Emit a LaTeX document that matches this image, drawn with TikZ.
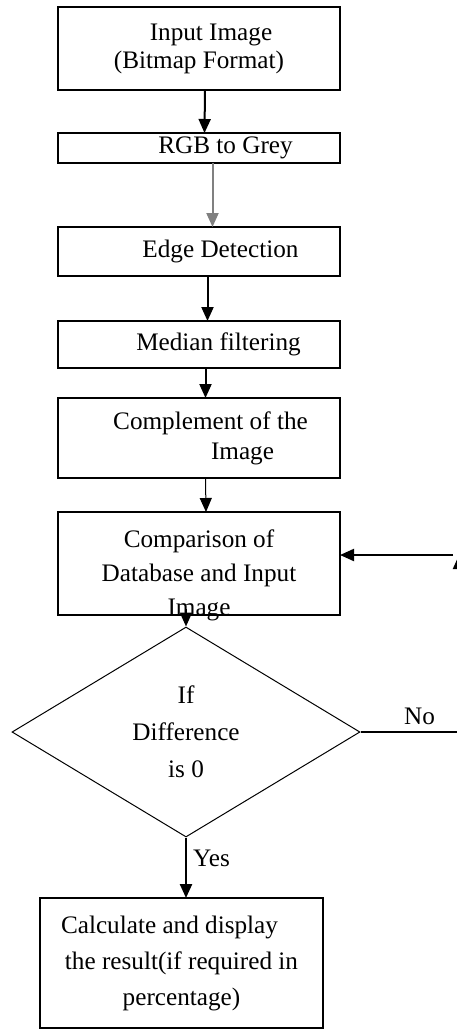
\documentclass[tikz,border=0pt]{standalone}
\usepackage{fontspec}
\setmainfont{Liberation Serif}
\usetikzlibrary{shapes.geometric,arrows.meta,calc}

\begin{document}
\begin{tikzpicture}
  [
    x=0.5pt, y=-0.5pt,
    font=\fontsize{12.6}{14}\selectfont,
    stage/.style =
      {draw, line width=1pt, minimum width=141pt, align=center, inner sep=0pt, outer sep=0pt},
    test/.style =
      {draw, diamond, line width=0.5pt, minimum width=174pt, minimum height=105pt,
       aspect=1.66, inner sep=0pt, align=center},
    flow/.style={-{Triangle[width=6pt,length=7pt]}, line width=1pt}
  ]
  \useasboundingbox (0,0) rectangle (456,1030);

  \node [stage, minimum height=41.5pt] at (199, 48.5) (input)
    {\hspace*{12pt}Input Image\\(Bitmap Format)};
  \node [stage, minimum height=15pt] at (198.5, 148) (grey)
    {\hspace*{27pt}RGB to Grey};
  \node [stage, minimum height=24.5pt] at (198.5, 251.5) (edge)
    {\hspace*{22pt}Edge Detection};
  \node [stage, minimum height=23.5pt] at (198.5, 344.5) (median)
    {\hspace*{20pt}Median filtering};
  \node [stage, minimum height=40pt, font=\fontsize{12.6}{15}\selectfont] at (198.5, 438) (compl)
    {\hspace*{12pt}Complement of the\\\hspace*{44pt}Image};
  \node [stage, minimum height=51.5pt] at (199, 563.5) (match) {};
  \node [align=center, inner sep=0pt, font=\fontsize{12.6}{17}\selectfont] at (199, 575) (matchtext)
    {Comparison of\\Database and Input\\Image};

  \node [test, font=\fontsize{12.6}{18.5}\selectfont] at (186, 732) (diff)
    {If\\Difference\\is 0};

  \node [stage, minimum width=141.5pt, minimum height=65pt, font=\fontsize{12.6}{18}\selectfont]
    at (181.5, 963) (result)
    {Calculate and display\hspace*{12pt}\\the result(if required in\hspace*{10pt}\\percentage)};

  % main chain
  \draw [flow] ([xshift=3pt]input.south) -- ([xshift=3pt]grey.north);
  \draw [flow, gray] ([xshift=7pt]grey.south) -- ([xshift=7pt]edge.north);
  \draw [flow] ([xshift=4.5pt]edge.south) -- ([xshift=4.5pt]median.north);
  \draw [flow] ([xshift=3.5pt]median.south) -- ([xshift=3.5pt]compl.north);
  \draw [flow, line width=0.5pt] ([xshift=3.5pt]compl.south) -- ([xshift=3.5pt]match.north);
  \draw [flow] ([yshift=3pt]diff.north |- match.south) -- (diff.north);
  \draw [flow, line width=1.2pt] (diff.south) -- node [right, pos=0.35, inner sep=3pt] {Yes}
    (diff.south |- result.north);

  % loop back on "No"
  \coordinate (back) at (459, 732);
  \coordinate (up) at (459, 555);
  \draw [line width=0.8pt] (diff.east) -- node [above, pos=0.6, inner sep=3pt] {No} (back);
  \draw [flow] (back) -- (up);
  \draw [flow] ([xshift=-3pt]up) -- (up -| match.east);

\end{tikzpicture}
\end{document}
